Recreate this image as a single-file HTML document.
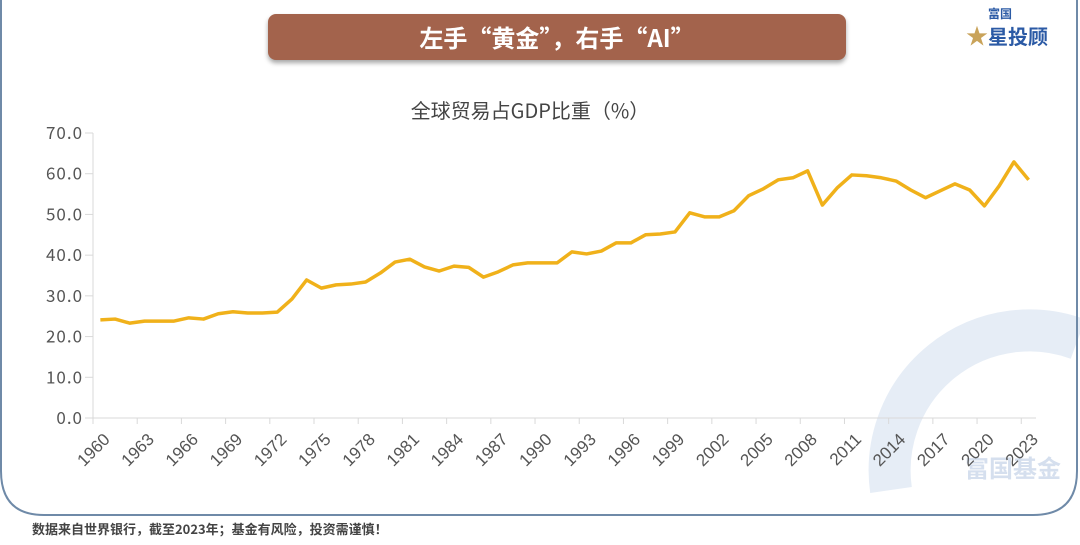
<!DOCTYPE html>
<html style="overflow:hidden;width:1080px;height:545px"><head><meta charset="utf-8"><style>
html,body{margin:0;padding:0}
body{width:1080px;height:545px;background:#fff;overflow:hidden;position:relative;font-family:"Liberation Sans","Noto Sans CJK SC",sans-serif}
.banner{position:absolute;left:268px;top:14px;width:578px;height:46px;background:#a3634c;border-radius:8px;box-shadow:0 3px 5px rgba(0,0,0,.35);color:#fff;font:bold 24px/46px "Noto Sans CJK SC",sans-serif;text-align:center}
.logo{position:absolute;left:966px;top:4px;font:bold 15px/1.2 "Noto Sans CJK SC",sans-serif;color:#2b5aa5}
.footer{position:absolute;left:32px;top:521px;height:16px;font:bold 13px/16px "Noto Sans CJK SC",sans-serif;color:#444;white-space:nowrap}
</style></head><body>
<svg width="1080" height="545" style="position:absolute;left:0;top:0;display:block">
<path d="M891,490 A140,140 0 0 1 1078,339" fill="none" stroke="#e6edf6" stroke-width="42"/>
<text x="965" y="477" font-family="Noto Sans CJK SC" font-size="24" font-weight="bold" fill="#d5dfee">富国基金</text>
<path d="M1,0 L1,471 Q1,515 44,515 L1033,515 Q1077,515 1077,471 L1077,0" fill="none" stroke="#6f8aa8" stroke-width="2"/>
</svg>
<div class="banner">左手“黄金”，右手“AI”</div>
<div class="logo"><span style="font-size:12px;margin-left:22px">富国</span><br><span style="font-size:22px;color:#c9a35a">★</span><span style="font-size:20px">星投顾</span></div>
<svg id="chart" width="1080" height="545" style="position:absolute;left:0;top:0;display:block"></svg>
<div class="footer">数据来自世界银行，截至2023年；基金有风险，投资需谨慎！</div>
<script>
const years=[];for(let y=1960;y<=2023;y++)years.push(y);
const values=[24.1,24.3,23.3,23.8,23.8,23.8,24.6,24.3,25.6,26.1,25.8,25.8,26.0,29.2,33.9,31.9,32.7,32.9,33.4,35.6,38.3,39.0,37.1,36.1,37.3,37.0,34.6,35.9,37.6,38.1,38.1,38.1,40.8,40.3,41.0,43.0,43.0,45.0,45.2,45.7,50.4,49.4,49.4,50.9,54.6,56.3,58.5,59.0,60.7,52.3,56.5,59.7,59.5,59.0,58.2,56.0,54.1,55.8,57.5,56.0,52.1,57.0,62.9,58.5];
const yTicks=[0,10,20,30,40,50,60,70];
const yTickLabels=["0.0","10.0","20.0","30.0","40.0","50.0","60.0","70.0"];
const NS="http://www.w3.org/2000/svg",svg=document.getElementById('chart');
const x0=93,x1=1036,yB=418,yT=133,bw=(x1-x0)/years.length;
const xs=i=>x0+bw*(i+0.5), xb=i=>x0+bw*i, ys=v=>yB-(v/70)*(yB-yT);
function el(t,a,txt){const e=document.createElementNS(NS,t);for(const k in a)e.setAttribute(k,a[k]);if(txt!=null)e.textContent=txt;svg.appendChild(e);return e;}
let t=el('text',{x:530,y:118,'text-anchor':'middle','font-size':20,fill:'#444','font-family':'Noto Sans CJK SC, sans-serif'},'全球贸易占GDP比重（%）');


let ax=el('line',{x1:x0,y1:yT,x2:x0,y2:yB,stroke:'#d9d9d9'});


yTicks.forEach((v,i)=>{
 const tk=el('line',{x1:x0-8,y1:ys(v),x2:x0,y2:ys(v),stroke:'#d9d9d9'});
 
 
 const l=el('text',{x:83,y:ys(v)+6,'text-anchor':'end','font-size':17,fill:'#555','letter-spacing':'1','font-family':'Noto Sans CJK SC, sans-serif'},yTickLabels[i]);
 
 
});
let xa=el('line',{x1:x0-8,y1:yB,x2:x1,y2:yB,stroke:'#d9d9d9'});


years.forEach((y,i)=>{
 if(i%3)return;
 const tk=el('line',{x1:xb(i),y1:yB,x2:xb(i),y2:yB+6,stroke:'#d9d9d9'});
 
 
 const px=xs(i)+2,py=yB+14;
 const l=el('text',{x:px,y:py,'text-anchor':'end','font-size':17,fill:'#555',transform:`rotate(-45 ${px} ${py})`,'dominant-baseline':'hanging'},String(y));
 
 
});
const p=el('polyline',{points:values.map((v,i)=>xs(i)+','+ys(v)).join(' '),fill:'none',stroke:'#f0b11a','stroke-width':3.5,'stroke-linejoin':'round'});


</script>
</body></html>
